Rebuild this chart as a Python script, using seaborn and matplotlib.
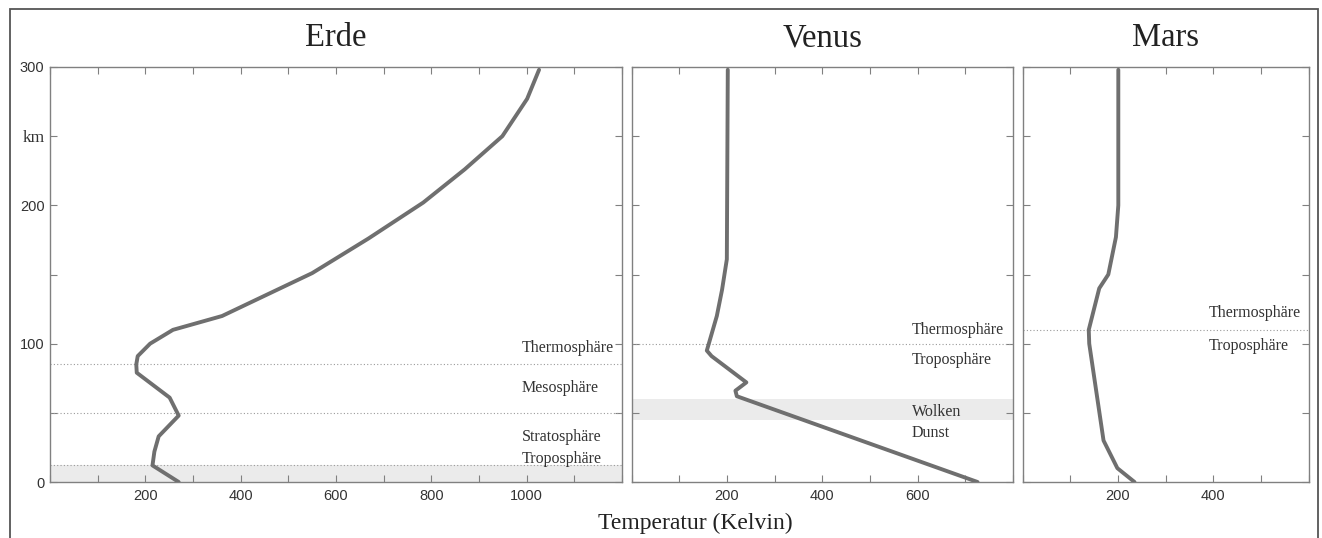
import matplotlib
matplotlib.use("Agg")
import matplotlib.pyplot as plt
from matplotlib.patches import Rectangle
import seaborn as sns

sns.set_style("ticks")
plt.rcParams['font.family'] = ['Liberation Sans', 'DejaVu Sans']

# Temperaturprofile (Kelvin) ueber der Hoehe (km)
erde_temp = [270, 215, 219, 228, 270, 251, 182, 181, 184, 210, 258, 361, 550, 668, 783, 870, 949, 1001, 1026]
erde_hoehe = [0, 12, 22, 33, 48, 61, 79, 85, 91, 100, 110, 120, 151, 176, 202, 226, 250, 277, 298]

venus_temp = [726, 221, 218, 241, 168, 158, 179, 190, 200, 202]
venus_hoehe = [0, 62, 66, 72, 91, 95, 120, 139, 161, 298]

mars_temp = [235, 199, 170, 140, 139, 161, 180, 196, 201, 201]
mars_hoehe = [0, 10, 30, 100, 110, 140, 150, 177, 200, 298]

# Schichtgrenzen, Baender und Beschriftungen
erde_grenzen = [12, 50, 85]
erde_band = (0, 12)
erde_namen = ["Thermosphäre", "Mesosphäre", "Stratosphäre", "Troposphäre"]
erde_namen_h = [97, 68, 32.5, 16.5]
erde_namen_x = 990

venus_grenzen = [100]
venus_band = (45, 60)
venus_namen = ["Thermosphäre", "Troposphäre", "Wolken", "Dunst"]
venus_namen_h = [110, 88.5, 50.5, 35.5]
venus_namen_x = 588

mars_grenzen = [110]
mars_band = None
mars_namen = ["Thermosphäre", "Troposphäre"]
mars_namen_h = [122, 98.5]
mars_namen_x = 390

planeten = ["Erde", "Venus", "Mars"]
xmax = [1200, 800, 600]

W, H = 1322, 538
fig = plt.figure(figsize=(W / 100, H / 100), dpi=100)

links = [50, 631.5, 1022.5]
unten, oben = 482, 67
px_pro_k = 572 / 1200

profile = [(erde_temp, erde_hoehe, erde_grenzen, erde_band, erde_namen, erde_namen_h, erde_namen_x),
           (venus_temp, venus_hoehe, venus_grenzen, venus_band, venus_namen, venus_namen_h, venus_namen_x),
           (mars_temp, mars_hoehe, mars_grenzen, mars_band, mars_namen, mars_namen_h, mars_namen_x)]

serif = ['Liberation Serif', 'DejaVu Serif']
grau = "#6f6f6f"
rahmen = "#808080"

for i, (temp, hoehe, grenzen, band, namen, namen_h, namen_x) in enumerate(profile):
    breite = xmax[i] * px_pro_k
    ax = fig.add_axes([links[i] / W, (H - unten) / H, breite / W, (unten - oben) / H])

    if band is not None:
        ax.axhspan(band[0], band[1], color="#ebebeb", lw=0, zorder=0)
    for g in grenzen:
        ax.axhline(g, color="#9a9a9a", lw=0.8, ls=(0, (1, 2)), zorder=1)

    sns.lineplot(x=temp, y=hoehe, orient="y", sort=False, estimator=None,
                 color=grau, lw=2.8, ax=ax, zorder=3)

    for name, h in zip(namen, namen_h):
        ax.text(namen_x, h, name, family=serif, fontsize=11.5, color="#333333",
                va="center", ha="left")

    ax.set_xlim(0, xmax[i])
    ax.set_ylim(0, 300)
    xt = list(range(0, xmax[i] + 1, 100))
    ax.set_xticks(xt)
    ax.set_xticklabels([str(t) if (t % 200 == 0 and 0 < t < xmax[i]) else "" for t in xt])
    yt = list(range(0, 301, 50))
    ax.set_yticks(yt)
    if i == 0:
        ax.set_yticklabels(["0", "", "100", "", "200", "km", "300"])
    else:
        ax.set_yticklabels([])
    ax.tick_params(direction="in", length=5, width=0.8, color=rahmen,
                   top=True, right=True, labelsize=10.5, labelcolor="#333333", pad=5)
    ax.tick_params(axis="y", pad=4)
    if i == 0:
        km = ax.get_yticklabels()[5]
        km.set_family(serif)
        km.set_fontsize(12.5)
    for s in ax.spines.values():
        s.set_visible(True)
        s.set_color(rahmen)
        s.set_linewidth(1.0)
    ax.set_xlabel("")
    ax.set_ylabel("")
    ax.set_title(planeten[i], family=serif, fontsize=23.5, color="#222222", pad=15)

fig.text(695 / W, (H - 529) / H, "Temperatur (Kelvin)", family=serif, fontsize=17,
         color="#222222", ha="center", va="baseline")

# aeusserer Rahmen
fig.add_artist(Rectangle((9.5 / W, -0.1), (1318 - 9.5) / W, 0.1 + (H - 9) / H,
                         transform=fig.transFigure, fill=False, ec="#555555", lw=1.3))

fig.savefig("out.png", dpi=100)
